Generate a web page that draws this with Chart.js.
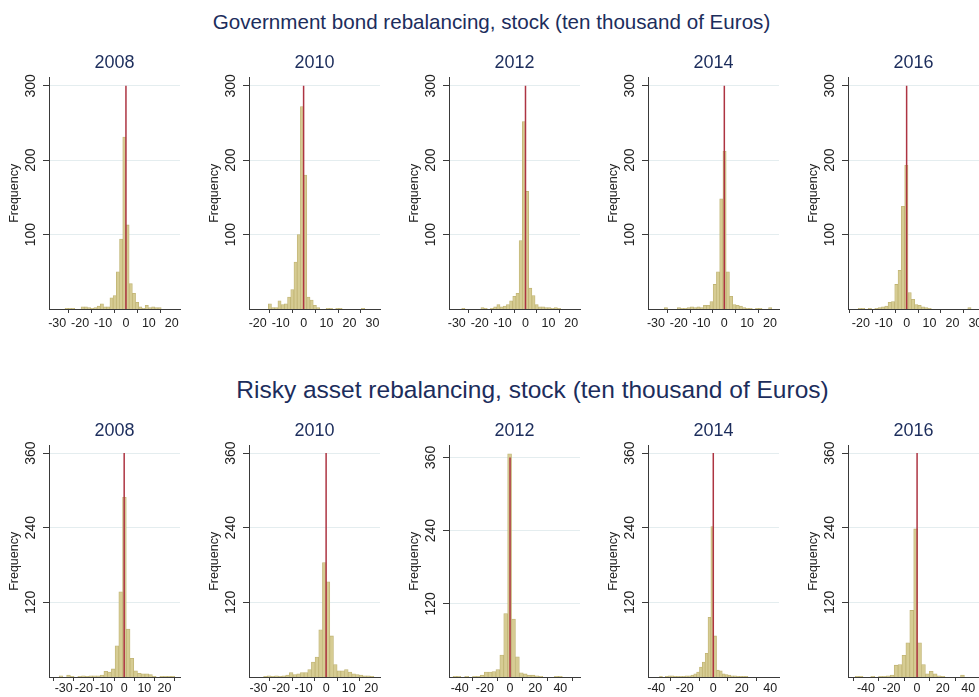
<!DOCTYPE html>
<html>
<head>
<meta charset="utf-8">
<script src="https://cdn.jsdelivr.net/npm/chart.js@4.4.1/dist/chart.umd.min.js"></script>
<style>
  html, body { margin: 0; padding: 0; background: #ffffff; }
  #stage { position: relative; width: 979px; height: 697px; overflow: hidden; background: #ffffff; }
  #stage canvas { position: absolute; }
  .row-title {
    position: absolute; width: 979px; text-align: center; white-space: nowrap;
    font-family: "Liberation Sans", Arial, Helvetica, sans-serif; color: #1c2d5c;
  }
</style>
</head>
<body>
<div id="stage">
  <div class="row-title" style="left:2px; top:10px; font-size:20.6px; line-height:24px;">Government bond rebalancing, stock (ten thousand of Euros)</div>
  <div class="row-title" style="left:43px; top:376px; font-size:24.5px; line-height:28px;">Risky asset rebalancing, stock (ten thousand of Euros)</div>
</div>
<script>
// ---- panel years -------------------------------------------------------
const years = ['2008', '2010', '2012', '2014', '2016'];

// ---- government bond rebalancing: bin counts (frequency per bin) -------
const govCounts2008 = [0,0,0,0,0,1,1,1,0,0,3,3,2,1,2,4,7,3,3,15,18,50,94,231,113,34,21,9,3,1,5,2,3,2,2,0,0,0,0,0,0];
const govCounts2010 = [0,0,0,0,0,0,7,2,2,11,6,7,16,26,63,100,272,180,16,12,5,2,0,0,1,1,0,1,1,0,0,0,0,0,0,1,0,0,0,0,0];
const govCounts2012 = [0,0,0,0,1,0,0,0,0,0,2,1,0,1,3,6,3,4,6,11,17,21,92,252,158,28,18,6,3,3,2,2,1,2,1,0,0,0,0,0,0];
const govCounts2014 = [0,0,0,0,0,2,0,0,0,2,1,1,2,3,2,3,2,5,5,10,33,50,148,212,50,17,6,5,4,2,1,1,0,1,1,0,0,2,0,0,0];
const govCounts2016 = [0,0,0,1,1,0,1,0,1,2,3,4,9,10,33,52,138,193,22,13,6,5,3,2,1,0,0,0,0,0,0,0,0,0,0,0,2,0,0,0];
const govBinStart = [-33.6, -23.8, -33.4, -33.5, -25.5];
const govBinWidth = [1.4, 1.4, 1.392, 1.43, 1.45];
const govXMin = [-33.6, -23.8, -33.4, -33.5, -25.6];
const govXMax = [23.6, 33.3, 23.8, 24.0, 31.6];
const govXTicks = [
  [-30, -20, -10, 0, 10, 20],
  [-20, -10, 0, 10, 20, 30],
  [-30, -20, -10, 0, 10, 20],
  [-30, -20, -10, 0, 10, 20],
  [-20, -10, 0, 10, 20, 30]
];
const govYTicks = [100, 200, 300];
const govYMax = [311, 311, 311, 311, 311];
const govZeroLineTop = 300;

// ---- risky asset rebalancing: bin counts -------------------------------
const riskyCounts2008 = [0,0,0,2,0,3,1,0,1,2,1,2,2,2,3,9,8,13,50,137,289,77,30,10,6,5,5,4,1,0,1,1,1,1,0,0];
const riskyCounts2010 = [0,0,0,0,1,2,1,2,1,2,3,7,4,5,7,7,12,24,32,76,184,153,66,20,10,10,12,8,5,4,3,2,2,1,0,0];
const riskyCounts2012 = [0,1,1,0,1,0,1,1,3,8,8,9,12,36,104,366,95,33,7,5,3,3,2,1,0,0,0,1,1,0,0,0,0,0];
const riskyCounts2014 = [0,0,0,0,1,0,1,2,2,1,1,1,1,2,2,3,5,8,16,24,38,96,242,66,11,10,5,4,3,2,2,1,1,1,1,0,0,0,0,0,0,0,0,0,0,0];
const riskyCounts2016 = [0,0,1,1,0,0,1,0,1,1,2,3,19,20,35,55,107,238,55,20,5,9,5,2,1,0,0,0,0,3,0,0,0,0];
const riskyBinStart = [-37.8, -34.23, -48.4, -45.7, -54.5];
const riskyBinWidth = [1.85, 1.63, 3.1, 2.0, 3.05];
const riskyXMin = [-37.3, -34.2, -48.5, -45.8, -54.0];
const riskyXMax = [27.7, 23.9, 55.6, 46.1, 48.4];
const riskyXTicks = [
  [-30, -20, -10, 0, 10, 20],
  [-30, -20, -10, 0, 10, 20],
  [-40, -20, 0, 20, 40],
  [-40, -20, 0, 20, 40],
  [-40, -20, 0, 20, 40]
];
const riskyYTicks = [120, 240, 360];
const riskyYMax = [372, 372, 379.5, 372, 372];
const riskyZeroLineTop = 360;

// ---- styling --------------------------------------------------------------
const FONT = '"Liberation Sans", Arial, Helvetica, sans-serif';
const TITLE_COLOR = '#1c2d5c';
const AXIS_COLOR = '#3a3a3a';
const LABEL_COLOR = '#222222';
const GRID_COLOR = '#e4edef';
const BAR_FILL = '#d6cc93';
const BAR_EDGE = '#c0b474';
const ZERO_LINE = '#ad3442';

const PANEL_W = 200;
const PANEL_H = 290;
const Y_AXIS_W = 49;
const PLOT_W = 131;
const PLOT_H = 231.4;
const TITLE_BLOCK = 18 * 1.2 + 4;
const Y_LABEL_OFFSET = 17.5;   // distance from the y axis line to the centre of the upright tick labels

Chart.defaults.font.family = FONT;

// Upright (bottom-to-top) tick labels for the frequency axis, placed at the scale's own tick pixels.
const uprightYLabels = {
  id: 'uprightYLabels',
  afterDraw(chart) {
    const scale = chart.scales.y;
    const ctx = chart.ctx;
    ctx.save();
    ctx.fillStyle = LABEL_COLOR;
    ctx.font = '14px ' + FONT;
    ctx.textAlign = 'center';
    ctx.textBaseline = 'middle';
    scale.ticks.forEach((t) => {
      const y = scale.getPixelForValue(t.value);
      ctx.save();
      ctx.translate(chart.chartArea.left - Y_LABEL_OFFSET, y);
      ctx.rotate(-Math.PI / 2);
      ctx.fillText(String(t.value), 0, 0);
      ctx.restore();
    });
    ctx.restore();
  }
};

function histogramPanel(stage, p) {
  const canvas = document.createElement('canvas');
  canvas.width = PANEL_W;
  canvas.height = PANEL_H;
  canvas.style.left = p.left + 'px';
  canvas.style.top = p.top + 'px';
  stage.appendChild(canvas);

  const bins = p.counts.map((c, i) => ({ x: p.binStart + (i + 0.5) * p.binWidth, y: c }));

  return new Chart(canvas, {
    type: 'bar',
    data: {
      datasets: [
        {
          type: 'line',
          data: [{ x: 0, y: 0 }, { x: 0, y: p.zeroLineTop }],
          borderColor: ZERO_LINE,
          borderWidth: 1.5,
          pointRadius: 0,
          order: 0
        },
        {
          type: 'bar',
          data: bins,
          backgroundColor: BAR_FILL,
          borderColor: BAR_EDGE,
          borderWidth: 0.8,
          barPercentage: 1,
          categoryPercentage: 1,
          order: 1
        }
      ]
    },
    plugins: [uprightYLabels],
    options: {
      responsive: false,
      animation: false,
      devicePixelRatio: 1,
      layout: { padding: { left: 0, top: 0, right: PANEL_W - Y_AXIS_W - PLOT_W, bottom: 0 } },
      plugins: {
        legend: { display: false },
        tooltip: { enabled: false },
        title: {
          display: true,
          fullSize: false,
          text: p.year,
          color: TITLE_COLOR,
          font: { size: 18, weight: 'normal', family: FONT },
          padding: { top: 0, bottom: 4 }
        }
      },
      scales: {
        x: {
          type: 'linear',
          min: p.xMin,
          max: p.xMax,
          offset: false,
          afterBuildTicks: (s) => { s.ticks = p.xTicks.map((v) => ({ value: v })); },
          afterFit: (s) => { s.height = PANEL_H - TITLE_BLOCK - PLOT_H; },
          ticks: {
            autoSkip: false, maxRotation: 0, minRotation: 0,
            color: LABEL_COLOR, font: { size: 12.5, family: FONT }, padding: p.xLabelPad
          },
          grid: { drawOnChartArea: false, drawTicks: true, tickLength: 4, tickColor: AXIS_COLOR },
          border: { display: true, color: AXIS_COLOR, width: 1 }
        },
        y: {
          type: 'linear',
          min: 0,
          max: p.yMax,
          afterBuildTicks: (s) => { s.ticks = p.yTicks.map((v) => ({ value: v })); },
          afterFit: (s) => { s.width = Y_AXIS_W; },
          ticks: { display: false },
          grid: { color: GRID_COLOR, lineWidth: 1, drawTicks: true, tickLength: 6, tickColor: AXIS_COLOR },
          border: { display: true, color: AXIS_COLOR, width: 1 },
          title: {
            display: true, text: 'Frequency', color: LABEL_COLOR,
            font: { size: 12.5, family: FONT }, padding: { top: 7.5, bottom: 0 }
          }
        }
      }
    }
  });
}

const stage = document.getElementById('stage');
const panelLefts = [0, 200, 400, 599, 799];

const govCounts = [govCounts2008, govCounts2010, govCounts2012, govCounts2014, govCounts2016];
const riskyCounts = [riskyCounts2008, riskyCounts2010, riskyCounts2012, riskyCounts2014, riskyCounts2016];

years.forEach((year, i) => {
  histogramPanel(stage, {
    left: panelLefts[i], top: 52, year,
    counts: govCounts[i], binStart: govBinStart[i], binWidth: govBinWidth[i],
    xMin: govXMin[i], xMax: govXMax[i], xTicks: govXTicks[i],
    yTicks: govYTicks, yMax: govYMax[i], zeroLineTop: govZeroLineTop, xLabelPad: 3.5
  });
  histogramPanel(stage, {
    left: panelLefts[i], top: 420, year,
    counts: riskyCounts[i], binStart: riskyBinStart[i], binWidth: riskyBinWidth[i],
    xMin: riskyXMin[i], xMax: riskyXMax[i], xTicks: riskyXTicks[i],
    yTicks: riskyYTicks, yMax: riskyYMax[i], zeroLineTop: riskyZeroLineTop, xLabelPad: 0
  });
});
</script>
</body>
</html>
